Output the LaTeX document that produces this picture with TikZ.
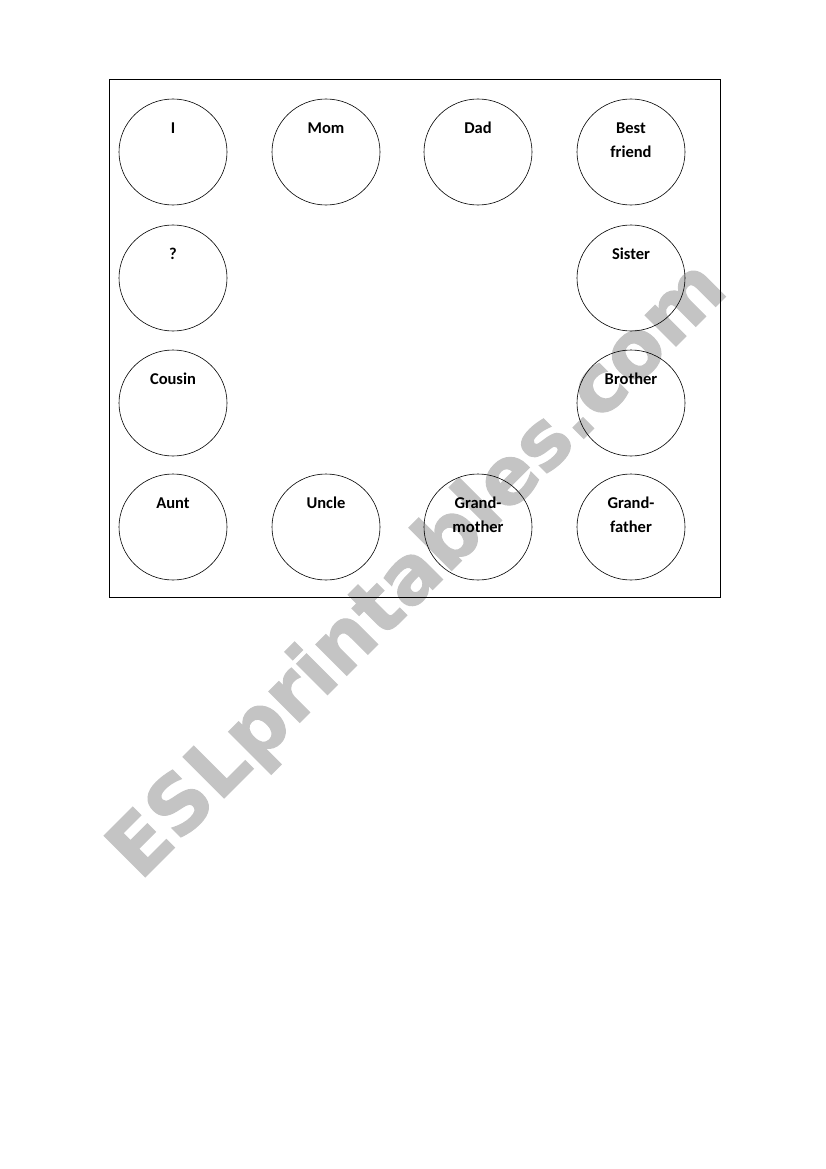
\documentclass[tikz,border=0pt]{standalone}
\usepackage{fontspec}
\setmainfont{Carlito}
\newfontfamily\wmfont[FakeBold=1.5]{DejaVu Sans}
\usetikzlibrary{shapes.geometric}
\begin{document}
\begin{tikzpicture}[x=1pt,y=-1pt,
  ring/.style={draw, line width=0.6pt, ellipse, minimum width=108pt, minimum height=106pt, inner sep=0pt},
  lbl/.style={font=\fontsize{16.5}{23.5}\selectfont\bfseries, align=center, anchor=north, inner sep=0pt}]
\newcommand{\lstrut}{\rule{0pt}{12pt}}
\useasboundingbox (0,0) rectangle (826,1169);
% watermark
\node[rotate=45, anchor=base west, text=black!23, font=\wmfont\bfseries\fontsize{79.5}{80}\selectfont, inner sep=0pt] (wm) at (140,882) {ESLprintables.com};
\draw[line width=0.8pt] (109,79) rectangle (720,597);
% circles
\node[ring] (c1) at (173,152) {};
\node[ring] (c2) at (326,152) {};
\node[ring] (c3) at (478,152) {};
\node[ring] (c4) at (631,152) {};
\node[ring] (c5) at (173,278) {};
\node[ring] (c6) at (631,278) {};
\node[ring] (c7) at (173,403) {};
\node[ring] (c8) at (631,403) {};
\node[ring] (c9) at (173,527) {};
\node[ring] (c10) at (326,527) {};
\node[ring] (c11) at (478,527) {};
\node[ring] (c12) at (631,527) {};
% labels
\node[lbl] (t1) at ([yshift=30.5]c1.center) {\lstrut I};
\node[lbl] (t2) at ([yshift=30.5]c2.center) {\lstrut Mom};
\node[lbl] (t3) at ([yshift=30.5]c3.center) {\lstrut Dad};
\node[lbl] (t4) at ([yshift=30.5]c4.center) {\lstrut Best\\friend};
\node[lbl] (t5) at ([yshift=30.5]c5.center) {\lstrut ?};
\node[lbl] (t6) at ([yshift=30.5]c6.center) {\lstrut Sister};
\node[lbl] (t7) at ([yshift=30.5]c7.center) {\lstrut Cousin};
\node[lbl] (t8) at ([yshift=30.5]c8.center) {\lstrut Brother};
\node[lbl] (t9) at ([yshift=30.5]c9.center) {\lstrut Aunt};
\node[lbl] (t10) at ([yshift=30.5]c10.center) {\lstrut Uncle};
\node[lbl] (t11) at ([yshift=30.5]c11.center) {\lstrut Grand-\\mother};
\node[lbl] (t12) at ([yshift=30.5]c12.center) {\lstrut Grand-\\father};
\end{tikzpicture}
\end{document}
